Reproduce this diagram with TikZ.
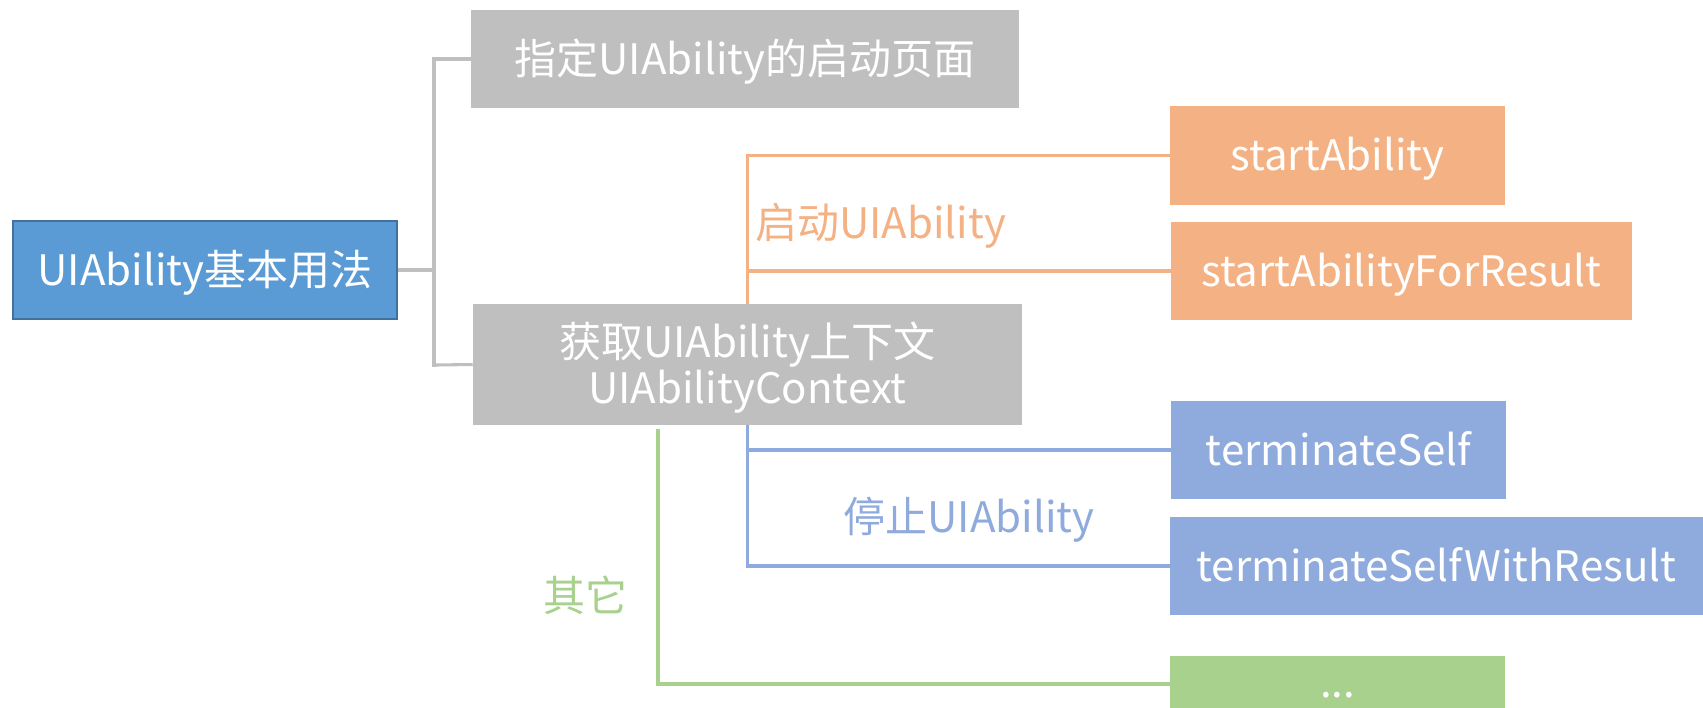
\documentclass[tikz,border=0pt]{standalone}
\usepackage{fontspec}
\setmainfont{Noto Sans CJK SC}
\definecolor{rootfill}{HTML}{5B9BD5}
\definecolor{rootline}{HTML}{41719C}
\definecolor{cgray}{HTML}{BFBFBF}
\definecolor{corange}{HTML}{F4B183}
\definecolor{cblue}{HTML}{8FAADC}
\definecolor{cgreen}{HTML}{A9D18E}
\tikzset{
  bx/.style 2 args={minimum width=#1*0.75pt, minimum height=#2*0.75pt, inner sep=0pt, text=white, font=\fontsize{31.5}{38}\selectfont, text height=30pt, text depth=7pt},
  lbl/.style={inner sep=0pt, font=\fontsize{31.5}{38}\selectfont},
  conn/.style={line width=2.3pt},
}
\begin{document}
\begin{tikzpicture}[x=0.75pt,y=-0.75pt]
\useasboundingbox (0,0) rectangle (1703,707);
\begin{scope}
\clip (0,0) rectangle (1703,707);
% boxes
\node[bx={384}{98}, fill=rootfill, draw=rootline, line width=2pt] (root) at (205,270) {UIAbility基本用法};
\node[bx={548}{98}, fill=cgray] (g1) at (745,59) {指定UIAbility的启动页面};
\coordinate (greenstart) at (658,429);
\draw[conn, line width=3pt, cgray] (root.east) -- (434,270) coordinate (gj);
\draw[conn, cgray] (g1.west) -| (gj);
\node[bx={335}{99}, fill=corange] (sa) at (1337.5,155.5) {startAbility};
\node[bx={461}{98}, fill=corange] (safr) at (1401.5,271) {startAbilityForResult};
\node[bx={335}{98}, fill=cblue] (ts) at (1338.5,450) {terminateSelf};
\node[bx={533}{98}, fill=cblue] (tswr) at (1436.5,566) {terminateSelfWithResult};
\node[bx={335}{56}, fill=cgreen, text height=24pt, text depth=4pt] (dots) at (1337.5,684) {...};
\coordinate (g2pos) at (747.5,364.5);
\draw[conn, corange] (g2pos) |- (sa.west);
\draw[conn, corange] (g2pos |- safr.west) -- (safr.west);
\draw[conn, cblue] (g2pos) |- (tswr.west);
\draw[conn, cblue] (g2pos |- ts.west) -- (ts.west);
\draw[conn, cgreen] (greenstart) |- (dots.west);
\draw[conn, cgray] (gj) |- (436,365) coordinate (gk);
\node[minimum width=549*0.75pt, minimum height=121*0.75pt, inner sep=0pt, fill=cgray] (g2) at (g2pos) {};
\node[inner sep=0pt, text=white, font=\fontsize{31.5}{38}\selectfont, align=center] (g2t) at (747.5,367.5) {获取UIAbility上下文\\[-3pt]UIAbilityContext};
\draw[conn, cgray] (gk) -- (g2.west);
% labels
\node[lbl, text=corange, anchor=west] (l1) at (755,226) {启动UIAbility};
\node[lbl, text=cblue] (l2) at (969,520) {停止UIAbility};
\node[lbl, text=cgreen] (l3) at (585,595) {其它};
\end{scope}
\end{tikzpicture}
\end{document}
